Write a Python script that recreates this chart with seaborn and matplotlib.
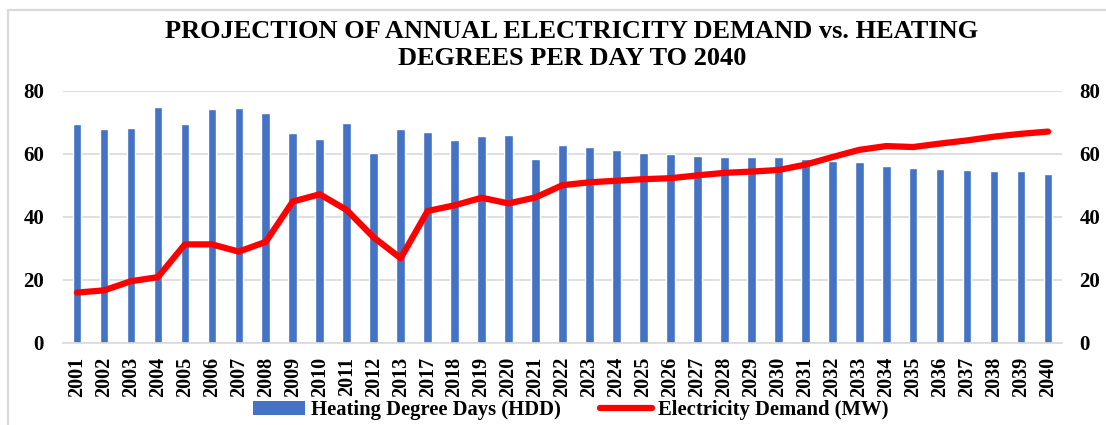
import numpy as np
import pandas as pd
import matplotlib
matplotlib.use('Agg')
import matplotlib.pyplot as plt
import seaborn as sns
from matplotlib.patches import Patch
from matplotlib.lines import Line2D

# Data
years = ['2001', '2002', '2003', '2004', '2005', '2006', '2007', '2008', '2009', '2010',
         '2011', '2012', '2013', '2017', '2018', '2019', '2020', '2021', '2022', '2023',
         '2024', '2025', '2026', '2027', '2028', '2029', '2030', '2031', '2032', '2033',
         '2034', '2035', '2036', '2037', '2038', '2039', '2040']
hdd = [69.4, 68.0, 68.2, 74.8, 69.6, 74.3, 74.6, 73.1, 66.5, 64.7,
       69.7, 60.3, 67.8, 67.1, 64.3, 65.8, 66.0, 58.5, 62.9, 62.2,
       61.3, 60.4, 60.0, 59.2, 58.9, 58.9, 58.9, 58.3, 57.7, 57.4,
       56.1, 55.6, 55.2, 54.8, 54.5, 54.5, 53.6]
demand = [16.0, 16.7, 19.6, 20.9, 31.3, 31.3, 29.0, 32.1, 44.9, 47.2,
          42.2, 33.5, 26.9, 41.9, 43.7, 46.1, 44.3, 46.2, 50.1, 51.0,
          51.5, 52.0, 52.3, 53.2, 54.0, 54.4, 54.9, 56.6, 59.0, 61.3,
          62.5, 62.2, 63.3, 64.3, 65.5, 66.4, 67.1]

df = pd.DataFrame({'year': years, 'hdd': hdd, 'demand': demand})

sns.set_style('white')
plt.rcParams['font.family'] = ['Liberation Serif', 'DejaVu Serif']
plt.rcParams['font.weight'] = 'bold'
plt.rcParams['text.color'] = 'black'
plt.rcParams['xtick.color'] = 'black'
plt.rcParams['ytick.color'] = 'black'

fig = plt.figure(figsize=(11.06, 4.25), dpi=100)
ax = fig.add_axes([0.0574, 0.193, 0.9024, 0.593])

# light border on top and left like the source image
W, H = 1106, 425
fig.add_artist(Line2D([8 / W, 1], [1 - 10 / H, 1 - 10 / H], color='#d9d9d9', linewidth=1.6))
fig.add_artist(Line2D([8 / W, 8 / W], [0, 1 - 10 / H], color='#d9d9d9', linewidth=1.6))

# HDD bars on the left axis
sns.barplot(data=df, x='year', y='hdd', color='#4472C4', saturation=1, width=0.32, ax=ax, zorder=2)
ax.set_ylim(0, 80)
ax.set_yticks([0, 20, 40, 60, 80])
ax.set_xlim(-0.5, len(years) - 0.5)
ax.yaxis.grid(True, color='#d9d9d9', linewidth=1.2, zorder=0)
ax.set_axisbelow(True)
ax.set_xlabel('')
ax.set_ylabel('')
ax.tick_params(axis='x', rotation=90, labelsize=14.5, length=0, pad=10)
ax.tick_params(axis='y', labelsize=15, length=0, pad=14)
for lab in ax.get_xticklabels() + ax.get_yticklabels():
    lab.set_fontweight('bold')
for s in ['top', 'left', 'right']:
    ax.spines[s].set_visible(False)
ax.spines['bottom'].set_color('#d9d9d9')
ax.spines['bottom'].set_linewidth(1.2)

# Electricity demand on the right axis
ax2 = ax.twinx()
sns.lineplot(x=np.arange(len(years)), y=df['demand'], color='#FF0000', linewidth=4.5, ax=ax2)
ax2.set_ylim(0, 80)
ax2.set_yticks([0, 20, 40, 60, 80])
ax2.set_ylabel('')
ax2.tick_params(axis='y', labelsize=15, length=0, pad=13)
for lab in ax2.get_yticklabels():
    lab.set_fontweight('bold')
for s in ['top', 'left', 'right', 'bottom']:
    ax2.spines[s].set_visible(False)

fig.text(0.517, 1 - 45 / H, 'PROJECTION OF ANNUAL ELECTRICITY DEMAND vs. HEATING\nDEGREES PER DAY TO 2040',
         fontsize=19, fontweight='bold', ha='center', va='center', linespacing=1.2)

handles = [Patch(facecolor='#4472C4', edgecolor='none'),
           Line2D([0], [0], color='#FF0000', linewidth=4.5)]
fig.legend(handles, ['Heating Degree Days (HDD)', 'Electricity Demand (MW)'],
           loc='center', bbox_to_anchor=(0.516, 1 - 410 / H), ncol=2, frameon=False,
           prop={'size': 14.9, 'weight': 'bold'}, handlelength=2.5, handletextpad=0.3,
           columnspacing=1.9, borderpad=0)

fig.savefig('out.png', dpi=100)
